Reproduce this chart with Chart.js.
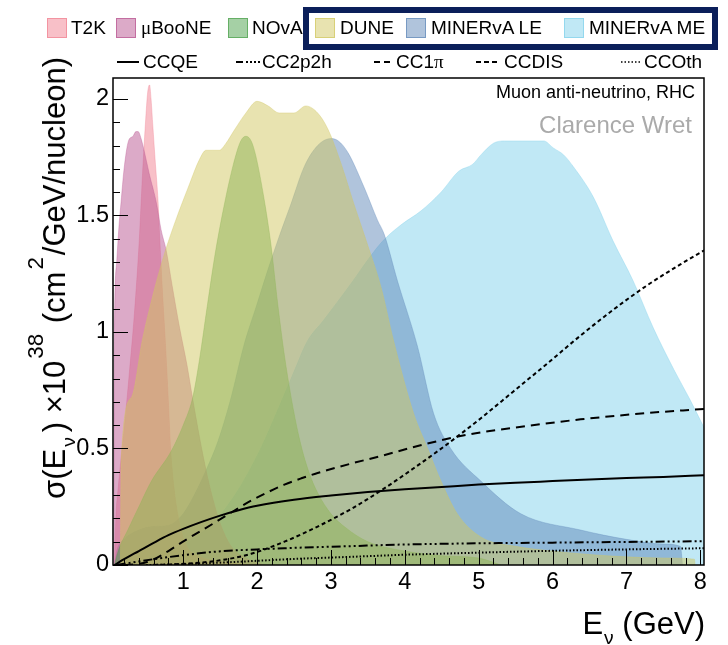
<!DOCTYPE html>
<html>
<head>
<meta charset="utf-8">
<script src="https://cdn.jsdelivr.net/npm/chart.js@4.4.0/dist/chart.umd.min.js"></script>
<style>
  body { margin: 0; background: #fff; font-family: "Liberation Sans", Arial, sans-serif; }
  #wrap { position: relative; width: 728px; height: 645px; overflow: hidden; }
  #wrap canvas { position: absolute; left: 0; top: 0; }
  .lab { position: absolute; white-space: nowrap; font-size: 19px; line-height: 19px; color: #000; }
  .box { position: absolute; top: 18px; width: 20px; height: 20px; box-sizing: border-box; border: 1px solid; }
  .sym { position: absolute; top: 55px; }
  .gr { font-family: "Liberation Serif", "DejaVu Serif", serif; }
  .title { position: absolute; white-space: nowrap; font-size: 31px; line-height: 31px; color: #000; }
  .title sup, .title sub { position: relative; vertical-align: baseline; line-height: 0; }
  .title sup { font-size: 0.72em; top: -1.0em; margin: 0 2px 0 2px; }
  .title sub { font-size: 0.62em; top: 0.5em; margin: 0 5px 0 2px; }
  #xtitle sub { margin: 0 0 0 1px; }
  #navy { position: absolute; left: 303px; top: 7px; width: 415px; height: 43px; box-sizing: border-box; border: 6px solid #0b1f5a; }
</style>
</head>
<body>
<div id="wrap">
  <canvas id="c" width="728" height="645"></canvas>

  <div id="navy"></div>
  <div class="box" style="left:47px;background:rgba(241,129,145,0.5);border-color:rgba(241,129,145,0.7)"></div>
  <div class="lab" style="left:71px;top:18px">T2K</div>
  <div class="box" style="left:116px;background:rgba(185,85,145,0.5);border-color:rgba(185,85,145,0.7)"></div>
  <div class="lab" style="left:141px;top:18px"><span class="gr">μ</span>BooNE</div>
  <div class="box" style="left:228px;background:rgba(75,161,75,0.5);border-color:rgba(75,161,75,0.7)"></div>
  <div class="lab" style="left:252px;top:18px">NOvA</div>
  <div class="box" style="left:315px;background:rgba(209,199,97,0.5);border-color:rgba(209,199,97,0.7)"></div>
  <div class="lab" style="left:340px;top:18px">DUNE</div>
  <div class="box" style="left:406px;background:rgba(97,137,185,0.5);border-color:rgba(97,137,185,0.7)"></div>
  <div class="lab" style="left:431px;top:18px">MINERvA LE</div>
  <div class="box" style="left:564px;background:rgba(129,209,235,0.5);border-color:rgba(129,209,235,0.7)"></div>
  <div class="lab" style="left:589px;top:18px">MINERvA ME</div>

  <svg class="sym" style="left:117px" width="22" height="14"><line x1="0" y1="7" x2="22" y2="7" stroke="#000" stroke-width="2"/></svg>
  <div class="lab" style="left:143px;top:52px">CCQE</div>
  <svg class="sym" style="left:236px" width="24" height="14"><line x1="0" y1="7" x2="24" y2="7" stroke="#000" stroke-width="2" stroke-dasharray="7 3 2 2 2 2 2 2"/></svg>
  <div class="lab" style="left:262px;top:52px">CC2p2h</div>
  <svg class="sym" style="left:374px" width="16" height="14"><line x1="0" y1="7" x2="16" y2="7" stroke="#000" stroke-width="2" stroke-dasharray="6 4"/></svg>
  <div class="lab" style="left:396px;top:52px">CC1<span class="gr">π</span></div>
  <svg class="sym" style="left:476px" width="21" height="14"><line x1="0" y1="7" x2="21" y2="7" stroke="#000" stroke-width="2" stroke-dasharray="5 3"/></svg>
  <div class="lab" style="left:504px;top:52px">CCDIS</div>
  <svg class="sym" style="left:621px" width="20" height="14"><line x1="0" y1="7" x2="20" y2="7" stroke="#000" stroke-width="1.5" stroke-dasharray="1.5 2"/></svg>
  <div class="lab" style="left:644px;top:52px">CCOth</div>

  <div class="lab" style="right:33px;top:83px;font-size:18px;line-height:18px">Muon anti-neutrino, RHC</div>
  <div class="lab" style="right:36px;top:113px;font-size:24px;line-height:24px;color:#aaaaaa">Clarence Wret</div>

  <div class="title" id="xtitle" style="right:23px;top:608px">E<sub>ν</sub> (GeV)</div>
  <div class="title" style="left:0;top:0;transform-origin:0 0;transform:translate(39px,57px) rotate(-90deg) translateX(-100%)">σ(E<sub>ν</sub>) ×10<sup>38</sup> (cm<sup>2</sup>/GeV/nucleon)</div>
</div>

<script>
// tick values and labels
const xTicks = [1, 2, 3, 4, 5, 6, 7, 8];
const xTickLabels = ["1", "2", "3", "4", "5", "6", "7", "8"];
const yTicks = [0, 0.5, 1, 1.5, 2];
const yTickLabels = ["0", "0.5", "1", "1.5", "2"];

// flux shapes (E in GeV)
const t2kE = [0.07, 0.09, 0.12, 0.16, 0.2, 0.27, 0.34, 0.405, 0.45, 0.49, 0.52, 0.545, 0.565, 0.59, 0.62, 0.66, 0.68, 0.72, 0.76, 0.8, 0.83, 0.88, 0.95, 1.05, 1.2, 1.5, 2.0];
const t2kFlux = [0, 0.21, 0.33, 0.46, 0.58, 0.82, 1.08, 1.39, 1.68, 1.9, 2.03, 2.06, 2.0, 1.88, 1.74, 1.56, 1.42, 1.17, 0.95, 0.7, 0.5, 0.32, 0.18, 0.08, 0.04, 0.015, 0];

const ubooneE = [0.06, 0.065, 0.07, 0.1, 0.13, 0.16, 0.2, 0.26, 0.32, 0.36, 0.39, 0.43, 0.47, 0.54, 0.64, 0.7, 0.77, 0.85, 0.95, 1.05, 1.13, 1.25, 1.35, 1.5, 1.65, 1.85, 2.1];
const ubooneFlux = [0, 0.6, 1.0, 1.3, 1.45, 1.56, 1.7, 1.82, 1.84, 1.86, 1.86, 1.83, 1.78, 1.68, 1.55, 1.44, 1.35, 1.2, 1.02, 0.86, 0.71, 0.5, 0.35, 0.18, 0.08, 0.03, 0];

const novaE = [0.07, 0.12, 0.25, 0.4, 0.57, 0.84, 1.0, 1.13, 1.22, 1.33, 1.43, 1.54, 1.68, 1.78, 1.85, 1.92, 1.98, 2.09, 2.19, 2.28, 2.37, 2.49, 2.59, 2.7, 2.82, 3.0, 3.2, 3.5, 4.0, 4.5, 5.0, 5.3];
const novaFlux = [0, 0.06, 0.15, 0.25, 0.36, 0.49, 0.6, 0.72, 0.88, 1.12, 1.33, 1.52, 1.72, 1.82, 1.84, 1.82, 1.76, 1.58, 1.37, 1.12, 0.9, 0.67, 0.52, 0.4, 0.31, 0.22, 0.16, 0.1, 0.06, 0.04, 0.03, 0];

const duneE = [0.15, 0.16, 0.3, 0.45, 0.6, 0.75, 0.9, 1.08, 1.22, 1.31, 1.4, 1.49, 1.58, 1.68, 1.85, 2.0, 2.15, 2.3, 2.5, 2.66, 2.82, 2.96, 3.14, 3.31, 3.49, 3.68, 3.85, 4.12, 4.31, 4.49, 4.71, 5.03, 5.5, 6.0, 6.5, 7.0, 7.5, 7.92, 7.93];
const duneFlux = [0, 0.45, 0.72, 0.97, 1.17, 1.34, 1.48, 1.63, 1.74, 1.78, 1.78, 1.78, 1.81, 1.86, 1.94, 1.99, 1.97, 1.94, 1.94, 1.97, 1.94, 1.87, 1.72, 1.55, 1.38, 1.19, 0.96, 0.65, 0.5, 0.36, 0.22, 0.12, 0.08, 0.06, 0.045, 0.035, 0.03, 0.025, 0];

const minervaLeE = [0.07, 0.1, 0.2, 0.4, 0.59, 0.8, 1.0, 1.15, 1.3, 1.47, 1.65, 1.82, 2.0, 2.15, 2.3, 2.46, 2.64, 2.82, 3.0, 3.1, 3.23, 3.45, 3.63, 3.72, 3.9, 4.17, 4.39, 4.62, 5.03, 5.57, 6.38, 7.0, 7.5, 7.73, 7.76];
const minervaLeFlux = [0, 0.06, 0.11, 0.15, 0.165, 0.17, 0.22, 0.3, 0.4, 0.53, 0.72, 0.94, 1.12, 1.27, 1.41, 1.55, 1.71, 1.8, 1.83, 1.82, 1.77, 1.62, 1.48, 1.42, 1.22, 0.94, 0.65, 0.5, 0.36, 0.22, 0.15, 0.11, 0.09, 0.08, 0];

const minervaMeE = [0.25, 0.5, 1.0, 1.4, 1.7, 2.05, 2.3, 2.5, 2.68, 2.9, 3.09, 3.3, 3.5, 3.7, 3.95, 4.22, 4.49, 4.73, 4.92, 5.03, 5.2, 5.35, 5.47, 5.88, 6.01, 6.15, 6.28, 6.55, 6.82, 7.09, 7.36, 7.64, 7.86, 8.05];
const minervaMeFlux = [0, 0.03, 0.09, 0.18, 0.3, 0.5, 0.68, 0.83, 0.96, 1.05, 1.13, 1.22, 1.31, 1.39, 1.46, 1.52, 1.6, 1.69, 1.72, 1.76, 1.81, 1.82, 1.82, 1.82, 1.79, 1.76, 1.71, 1.58, 1.39, 1.22, 1.02, 0.84, 0.71, 0.59];

// cross sections (x10^-38 cm^2 / nucleon)
const ccqeE = [0.07, 0.2, 0.4, 0.6, 0.8, 1.0, 1.25, 1.5, 1.75, 2.0, 2.5, 3.0, 3.5, 4.0, 4.5, 5.0, 5.5, 6.0, 6.5, 7.0, 7.5, 8.05];
const ccqeXsec = [0, 0.025, 0.06, 0.095, 0.128, 0.155, 0.185, 0.212, 0.235, 0.254, 0.28, 0.298, 0.313, 0.325, 0.335, 0.345, 0.353, 0.36, 0.367, 0.373, 0.378, 0.385];

const cc2p2hE = [0.1, 0.3, 0.6, 1.0, 1.47, 2.0, 2.37, 3.27, 4.0, 5.0, 6.0, 7.0, 8.05];
const cc2p2hXsec = [0, 0.01, 0.025, 0.042, 0.058, 0.067, 0.072, 0.081, 0.088, 0.093, 0.096, 0.099, 0.102];

const cc1piE = [0.2, 0.4, 0.57, 0.8, 1.02, 1.25, 1.47, 1.7, 1.92, 2.15, 2.37, 2.6, 2.82, 3.27, 3.68, 4.2, 4.86, 5.5, 6.38, 7.2, 8.05];
const cc1piXsec = [0, 0.005, 0.02, 0.06, 0.105, 0.148, 0.19, 0.235, 0.276, 0.313, 0.345, 0.372, 0.395, 0.435, 0.468, 0.513, 0.56, 0.59, 0.625, 0.65, 0.67];

const ccdisE = [0.6, 1.0, 1.5, 1.92, 2.37, 2.82, 3.27, 3.68, 4.12, 4.58, 5.03, 5.47, 5.93, 6.38, 6.82, 7.28, 7.73, 8.05];
const ccdisXsec = [0, 0.005, 0.02, 0.048, 0.1, 0.165, 0.24, 0.32, 0.415, 0.52, 0.63, 0.745, 0.865, 0.985, 1.095, 1.2, 1.29, 1.35];

const ccothE = [0.5, 1.0, 1.5, 2.0, 2.5, 3.27, 4.0, 5.0, 6.0, 7.0, 8.05];
const ccothXsec = [0, 0.004, 0.01, 0.018, 0.026, 0.035, 0.044, 0.053, 0.061, 0.067, 0.072];

const font = '"Liberation Sans", Arial, sans-serif';

function pts(xs, ys) {
    return xs.map((v, i) => ({ x: v, y: ys[i] }));
}

function flux(xs, ys, rgb, order) {
    return {
        data: pts(xs, ys),
        fill: 'origin',
        backgroundColor: 'rgba(' + rgb + ',0.5)',
        borderColor: 'rgba(' + rgb + ',0.35)',
        borderWidth: 1,
        cubicInterpolationMode: 'monotone',
        order: order
    };
}

function xsec(xs, ys, dash, width) {
    return {
        data: pts(xs, ys),
        fill: false,
        borderColor: '#000',
        borderWidth: width,
        borderDash: dash,
        cubicInterpolationMode: 'monotone',
        order: 0
    };
}

// inward ticks + box round the plot
const frameTicks = {
    id: 'frameTicks',
    afterDatasetsDraw(chart) {
        const { ctx, chartArea: a, scales: { x, y } } = chart;
        ctx.save();
        ctx.strokeStyle = '#000';
        ctx.lineWidth = 1;
        ctx.beginPath();
        for (let i = 1; i <= 40; i++) {
            const px = Math.round(x.getPixelForValue(i * 0.2)) + 0.5;
            const len = i % 5 === 0 ? 15 : 7;
            ctx.moveTo(px, a.bottom);
            ctx.lineTo(px, a.bottom - len);
        }
        for (let i = 0; i <= 20; i++) {
            const py = Math.round(y.getPixelForValue(i * 0.1)) + 0.5;
            const len = i % 5 === 0 ? 15 : 7;
            ctx.moveTo(a.left, py);
            ctx.lineTo(a.left + len, py);
        }
        ctx.stroke();
        ctx.lineWidth = 1.5;
        ctx.strokeRect(a.left, a.top, a.right - a.left, a.bottom - a.top);
        ctx.restore();
    }
};

new Chart(document.getElementById('c'), {
    type: 'line',
    data: {
        datasets: [
            xsec(ccqeE, ccqeXsec, [], 2),
            xsec(cc2p2hE, cc2p2hXsec, [9, 3, 2, 3, 2, 3, 2, 3], 2),
            xsec(cc1piE, cc1piXsec, [9, 6], 2),
            xsec(ccdisE, ccdisXsec, [4, 3], 2),
            xsec(ccothE, ccothXsec, [1.5, 2], 2),
            flux(t2kE, t2kFlux, '241,129,145', 14),
            flux(ubooneE, ubooneFlux, '185,85,145', 13),
            flux(novaE, novaFlux, '75,161,75', 12),
            flux(duneE, duneFlux, '209,199,97', 11),
            flux(minervaLeE, minervaLeFlux, '97,137,185', 15),
            flux(minervaMeE, minervaMeFlux, '129,209,235', 16)
        ]
    },
    options: {
        responsive: false,
        animation: false,
        layout: { padding: { top: 78, right: 24, left: 0, bottom: 0 } },
        elements: { point: { radius: 0 } },
        plugins: { legend: { display: false }, tooltip: { enabled: false } },
        scales: {
            x: {
                type: 'linear',
                min: 0.05,
                max: 8.05,
                afterBuildTicks: (s) => { s.ticks = xTicks.map(v => ({ value: v })); },
                afterFit: (s) => { s.height = 80; },
                grid: { display: false, drawTicks: false },
                border: { display: false },
                ticks: {
                    color: '#000',
                    font: { family: font, size: 23.5 },
                    padding: 3,
                    maxRotation: 0,
                    autoSkip: false,
                    callback: (v, i) => xTickLabels[i]
                }
            },
            y: {
                type: 'linear',
                min: 0,
                max: 2.09,
                afterBuildTicks: (s) => { s.ticks = yTicks.map(v => ({ value: v })); },
                afterFit: (s) => { s.width = 113; },
                grid: { display: false, drawTicks: false },
                border: { display: false },
                ticks: {
                    color: '#000',
                    font: { family: font, size: 23.5 },
                    padding: 4,
                    autoSkip: false,
                    callback: (v, i) => yTickLabels[i]
                }
            }
        }
    },
    plugins: [frameTicks]
});
</script>
</body>
</html>
